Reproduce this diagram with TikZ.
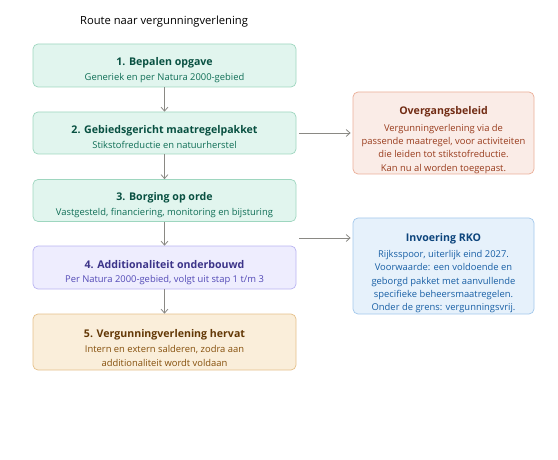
\documentclass[tikz,border=0pt]{standalone}
\usepackage{fontspec}
\setmainfont{Open Sans}
\usetikzlibrary{arrows.meta,calc}
\definecolor{mintfill}{HTML}{E1F5EE}
\definecolor{mintdraw}{HTML}{9ED6BF}
\definecolor{minttitle}{HTML}{085041}
\definecolor{minttext}{HTML}{0F6E56}
\definecolor{lavfill}{HTML}{EEEDFE}
\definecolor{lavdraw}{HTML}{B9B4F1}
\definecolor{lavtitle}{HTML}{3C3489}
\definecolor{lavtext}{HTML}{534AB7}
\definecolor{sandfill}{HTML}{FAEEDA}
\definecolor{sanddraw}{HTML}{E5C08A}
\definecolor{sandtitle}{HTML}{633806}
\definecolor{sandtext}{HTML}{854F0B}
\definecolor{corfill}{HTML}{FAECE7}
\definecolor{cordraw}{HTML}{EBAE98}
\definecolor{cortitle}{HTML}{712B13}
\definecolor{cortext}{HTML}{993C1D}
\definecolor{bluefill}{HTML}{E6F1FB}
\definecolor{bluedraw}{HTML}{A3C8EC}
\definecolor{bluetitle}{HTML}{0C447C}
\definecolor{bluetext}{HTML}{185FA5}
\definecolor{arrowgray}{HTML}{8A8984}
\newcommand{\ttl}[1]{{\fontsize{10.6}{13.3}\selectfont\bfseries #1}}
\begin{document}
\begin{tikzpicture}[x=1pt,y=-1pt,
  box/.style={draw, rounded corners=5pt, line width=0.7pt, inner sep=0pt},
  txt/.style={align=center, inner sep=0pt, font=\fontsize{9.4}{13.3}\selectfont},
  stepbox/.style={box, minimum width=263pt},
  sidebox/.style={box, minimum width=181pt},
  mint/.style={fill=mintfill, draw=mintdraw},
  lav/.style={fill=lavfill, draw=lavdraw},
  sand/.style={fill=sandfill, draw=sanddraw},
  cor/.style={fill=corfill, draw=cordraw},
  blu/.style={fill=bluefill, draw=bluedraw},
  conn/.style={draw=arrowgray, line width=0.8pt, -{Straight Barb[length=4pt,width=7pt]}}
]
\useasboundingbox (0,0) rectangle (558,460);
\node[font=\fontsize{11.2}{13}\selectfont, text=black, anchor=center] (title) at (164,22) {Route naar vergunningverlening};

\node[stepbox, mint, minimum height=43pt] (b1) at (164.5,65.5) {};
\node[txt, text=minttext] (b1t) at ($(b1.center)+(0,4.5)$)
  {\textcolor{minttitle}{\ttl{1. Bepalen opgave}}\\[1pt]Generiek en per Natura 2000-gebied};
\node[stepbox, mint, minimum height=42pt] (b2) at (164.5,133) {};
\node[txt, text=minttext] (b2t) at ($(b2.center)+(0,4)$)
  {\textcolor{minttitle}{\ttl{2. Gebiedsgericht maatregelpakket}}\\[1pt]Stikstofreductie en natuurherstel};
\node[stepbox, mint, minimum height=42pt] (b3) at (164.5,200.5) {};
\node[txt, text=minttext] (b3t) at ($(b3.center)+(0,4.5)$)
  {\textcolor{minttitle}{\ttl{3. Borging op orde}}\\[1pt]Vastgesteld, financiering, monitoring en bijsturing};
\node[stepbox, lav, minimum height=43pt] (b4) at (164.5,267.5) {};
\node[txt, text=lavtext] (b4t) at ($(b4.center)+(0,5)$)
  {\textcolor{lavtitle}{\ttl{4. Additionaliteit onderbouwd}}\\[1pt]Per Natura 2000-gebied, volgt uit stap 1 t/m 3};
\node[stepbox, sand, minimum height=56pt] (b5) at (164.5,342) {};
\node[txt, text=sandtext] (b5t) at ($(b5.center)+(0,6)$)
  {\textcolor{sandtitle}{\ttl{5. Vergunningverlening hervat}}\\[1.5pt]Intern en extern salderen, zodra aan\\additionaliteit wordt voldaan};

\node[sidebox, cor, minimum height=82pt] (ov) at (443.5,133) {};
\node[txt, text=cortext] (ovt) at ($(ov.center)+(0,7)$)
  {\textcolor{cortitle}{\ttl{Overgangsbeleid}}\\[3.5pt]
   Vergunningverlening via de\\
   passende maatregel, voor activiteiten\\
   die leiden tot stikstofreductie.\\
   Kan nu al worden toegepast.};
\node[sidebox, blu, minimum height=96pt] (rko) at (443.5,266) {};
\node[txt, text=bluetext] (rkot) at ($(rko.center)+(0,7.5)$)
  {\textcolor{bluetitle}{\ttl{Invoering RKO}}\\[2.5pt]
   Rijksspoor, uiterlijk eind 2027.\\
   Voorwaarde: een voldoende en\\
   geborgd pakket met aanvullende\\
   specifieke beheersmaatregelen.\\
   Onder de grens: vergunningsvrij.};

\draw[conn] (b1) -- (b2);
\draw[conn] (b2) -- (b3);
\draw[conn] (b3) -- (b4);
\draw[conn] (b4) -- (b5);
\draw[conn, shorten <=3pt, shorten >=2pt] (b2.east) -- (ov.west);
\coordinate (rkofrom) at (299,238);
\draw[conn, shorten >=2pt] (rkofrom) -- (rkofrom -| rko.west);
\end{tikzpicture}
\end{document}
